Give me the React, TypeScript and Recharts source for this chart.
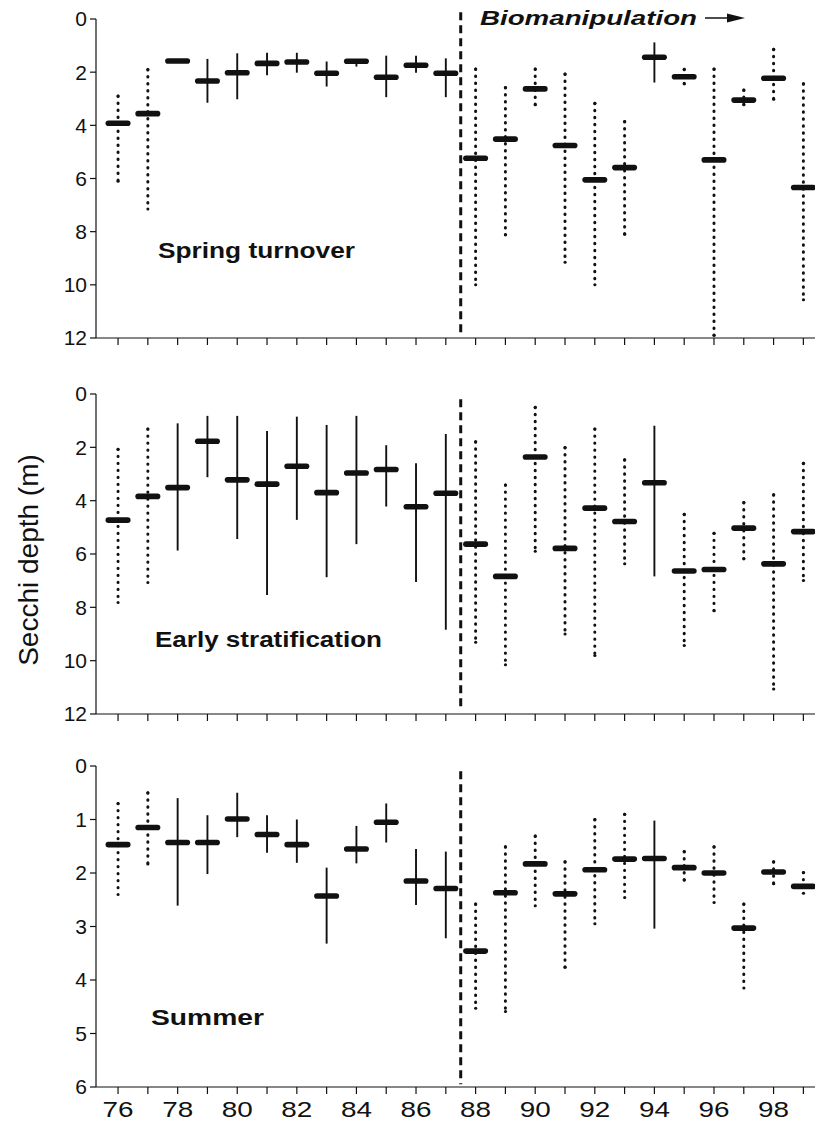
import React from "react";
import { ScatterChart, Scatter, XAxis, YAxis, ErrorBar, ReferenceLine } from "recharts";

const FONT = "'Liberation Sans', Arial, Helvetica, sans-serif";
const INK = "#111";

// years, and the years with dotted ranges (the others are solid)
const years = [76, 77, 78, 79, 80, 81, 82, 83, 84, 85, 86, 87, 88, 89, 90, 91, 92, 93, 94, 95, 96, 97, 98, 99];
const dottedYears = [76, 77, 88, 89, 90, 91, 92, 93, 95, 96, 97, 98, 99];

// Spring turnover: mean, min and max Secchi depth (m)
const springMean = [3.92, 3.56, 1.58, 2.33, 2.02, 1.67, 1.62, 2.04, 1.59, 2.19, 1.74, 2.04, 5.24, 4.52, 2.63, 4.76, 6.05, 5.59, 1.44, 2.17, 5.3, 3.05, 2.23, 6.34];
const springMin = [2.9, 1.9, 1.55, 1.5, 1.29, 1.27, 1.27, 1.6, 1.54, 1.38, 1.38, 1.48, 1.88, 2.58, 1.88, 2.07, 3.17, 3.86, 0.88, 1.89, 1.88, 2.67, 1.14, 2.44];
const springMax = [6.1, 7.15, 1.62, 3.15, 3.02, 2.12, 2.02, 2.54, 1.79, 2.94, 2.02, 2.94, 10.0, 8.12, 3.23, 9.15, 10.0, 8.1, 2.39, 2.44, 11.9, 3.23, 3.02, 10.56];

// Early stratification
const earlyMean = [4.73, 3.84, 3.51, 1.77, 3.22, 3.38, 2.71, 3.7, 2.96, 2.83, 4.23, 3.72, 5.63, 6.84, 2.36, 5.79, 4.28, 4.78, 3.33, 6.64, 6.58, 5.03, 6.37, 5.16];
const earlyMin = [2.07, 1.31, 1.1, 0.82, 0.82, 1.39, 0.85, 1.16, 0.82, 1.92, 2.6, 1.5, 1.79, 3.41, 0.5, 2.01, 1.31, 2.47, 1.19, 4.51, 5.22, 4.07, 3.78, 2.6];
const earlyMax = [7.82, 7.07, 5.87, 3.12, 5.44, 7.54, 4.72, 6.87, 5.63, 4.22, 7.05, 8.84, 9.31, 10.15, 5.9, 9.0, 9.81, 6.37, 6.84, 9.43, 8.13, 6.18, 11.06, 6.99];

// Summer
const summerMean = [1.47, 1.15, 1.43, 1.43, 0.99, 1.28, 1.47, 2.43, 1.55, 1.05, 2.15, 2.29, 3.46, 2.37, 1.83, 2.39, 1.94, 1.74, 1.73, 1.9, 2.0, 3.03, 1.98, 2.25];
const summerMin = [0.7, 0.5, 0.6, 0.92, 0.5, 0.92, 1.0, 1.9, 1.12, 0.7, 1.55, 1.6, 2.58, 1.51, 1.31, 1.79, 1.0, 0.9, 1.02, 1.6, 1.51, 2.58, 1.79, 1.99];
const summerMax = [2.4, 1.83, 2.61, 2.02, 1.33, 1.62, 1.81, 3.32, 1.82, 1.43, 2.6, 3.22, 4.53, 4.59, 2.61, 3.76, 2.95, 2.46, 3.04, 2.13, 2.55, 4.15, 2.2, 2.38];

const springTicks = [0, 2, 4, 6, 8, 10, 12];
const summerTicks = [0, 1, 2, 3, 4, 5, 6];
const startYear = 87.5;

function buildRows(mean: number[], lo: number[], hi: number[]) {
  return years.map((year, i) => ({
    year,
    mean: mean[i],
    err: [mean[i] - lo[i], hi[i] - mean[i]],
    dotted: dottedYears.includes(year),
  }));
}

const MeanDash = (props: any) => {
  const { cx, cy } = props;
  if (cx == null || cy == null) return <g />;
  return <rect x={cx - 12.5} y={cy - 2.8} width={25} height={5.6} rx={2.8} fill={INK} />;
};

const NoTick = () => <g />;

const YearTick = (props: any) => {
  const { x, y, payload } = props;
  if (payload.value % 2 !== 0) return <g />;
  return (
    <text x={x} y={y} dy="0.71em" textAnchor="middle" fontSize={22} fontFamily={FONT} fill={INK}
      textLength={31} lengthAdjust="spacingAndGlyphs">
      {payload.value}
    </text>
  );
};

type PanelProps = {
  rows: ReturnType<typeof buildRows>;
  top: number;
  height: number;
  margin: { top: number; right: number; bottom: number; left: number };
  yMax: number;
  yTicks: number[];
  xHeight: number;
  labels: boolean;
  lineFrom: number;
  lineTo: number;
};

function Panel({ rows, top, height, margin, yMax, yTicks, xHeight, labels, lineFrom, lineTo }: PanelProps) {
  const solid = rows.filter((r) => !r.dotted);
  const dotted = rows.filter((r) => r.dotted);
  return (
    <div style={{ position: "absolute", left: 0, top, width: 817, height }}>
      <ScatterChart width={817} height={height} margin={margin}>
        <XAxis
          type="number"
          dataKey="year"
          domain={[75.26, 99.39]}
          ticks={years}
          interval={0}
          allowDataOverflow
          height={xHeight}
          tickSize={7}
          tickMargin={7}
          axisLine={{ stroke: INK, strokeWidth: 1.2 }}
          tickLine={{ stroke: INK, strokeWidth: 1.2 }}
          tick={labels ? YearTick : NoTick}
        />
        <YAxis
          type="number"
          dataKey="mean"
          reversed
          domain={[0, yMax]}
          ticks={yTicks}
          interval={0}
          allowDataOverflow
          width={60}
          tickSize={6}
          tickMargin={3}
          axisLine={{ stroke: INK, strokeWidth: 1.2 }}
          tickLine={{ stroke: INK, strokeWidth: 1.2 }}
          tick={{ fontSize: 21, fill: INK, fontFamily: FONT }}
        />
        <ReferenceLine
          segment={[{ x: startYear, y: lineFrom }, { x: startYear, y: lineTo }]}
          ifOverflow="visible"
          stroke={INK}
          strokeWidth={3}
          strokeDasharray="8 5"
        />
        <Scatter data={solid} dataKey="mean" shape={MeanDash} isAnimationActive={false}>
          <ErrorBar dataKey="err" direction="y" width={0} stroke={INK} strokeWidth={1.9} isAnimationActive={false} />
        </Scatter>
        <Scatter data={dotted} dataKey="mean" shape={MeanDash} isAnimationActive={false}>
          <ErrorBar dataKey="err" direction="y" width={0} stroke={INK} strokeWidth={3}
            strokeDasharray="0.4 6.6" strokeLinecap="round" isAnimationActive={false} />
        </Scatter>
      </ScatterChart>
    </div>
  );
}

export default function App() {
  const spring = buildRows(springMean, springMin, springMax);
  const early = buildRows(earlyMean, earlyMin, earlyMax);
  const summer = buildRows(summerMean, summerMin, summerMax);
  return (
    <div style={{ position: "absolute", left: 0, top: 0, width: 817, height: 1122, background: "#fff", fontFamily: FONT }}>
      <Panel rows={spring} top={0} height={360} margin={{ top: 19, right: 2, bottom: 10, left: 36 }}
        yMax={12} yTicks={springTicks} xHeight={12} labels={false} lineFrom={-0.25} lineTo={11.9} />
      <Panel rows={early} top={370} height={360} margin={{ top: 24, right: 2, bottom: 4, left: 36 }}
        yMax={12} yTicks={springTicks} xHeight={12} labels={false} lineFrom={0.2} lineTo={11.9} />
      <Panel rows={summer} top={740} height={382} margin={{ top: 26, right: 2, bottom: 5, left: 36 }}
        yMax={6} yTicks={summerTicks} xHeight={30} labels={true} lineFrom={0.1} lineTo={5.95} />
      <svg width={817} height={1122} style={{ position: "absolute", left: 0, top: 0, pointerEvents: "none" }}>
        <g fontFamily={FONT} fill={INK}>
          <text x={158} y={258} fontSize={22} fontWeight="bold" textLength={197} lengthAdjust="spacingAndGlyphs">Spring turnover</text>
          <text x={155} y={647} fontSize={22} fontWeight="bold" textLength={227} lengthAdjust="spacingAndGlyphs">Early stratification</text>
          <text x={151} y={1025} fontSize={22} fontWeight="bold" textLength={113} lengthAdjust="spacingAndGlyphs">Summer</text>
          <text x={480} y={25} fontSize={21} fontWeight="bold" fontStyle="italic" textLength={217} lengthAdjust="spacingAndGlyphs">Biomanipulation</text>
          <line x1={705} y1={18} x2={730} y2={18} stroke={INK} strokeWidth={1.5} />
          <polygon points="727,13.5 745,18 727,22.5" fill={INK} />
          <text x={38} y={560} fontSize={28} textAnchor="middle" transform="rotate(-90 38 560)">Secchi depth (m)</text>
        </g>
      </svg>
    </div>
  );
}
